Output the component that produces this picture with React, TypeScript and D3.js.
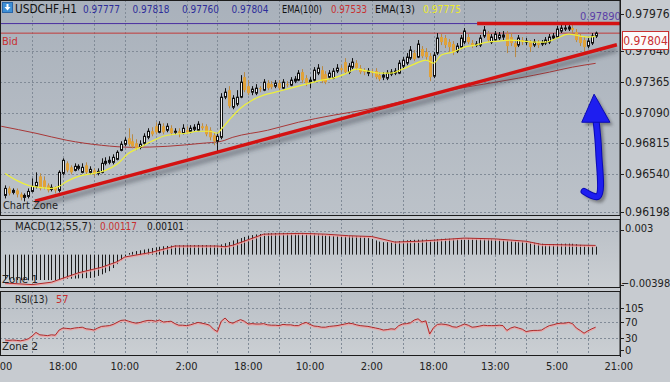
import React from 'react';
import * as d3 from 'd3';

// ---------- DATA (prices in points, 1e-5 CHF) ----------
const SYMBOL = 'USDCHF,H1';
const OPEN = [
  96347, 96410, 96374, 96392, 96356, 96329, 96338, 96383, 96428, 96518,
  96482, 96437, 96401, 96419, 96392, 96545, 96635, 96599, 96572, 96590,
  96554, 96617, 96554, 96572, 96545, 96554, 96635, 96644, 96644, 96671,
  96752, 96806, 96860, 96833, 96815, 96779, 96815, 96869, 96923, 96968,
  96914, 96968, 96932, 96950, 96914, 96923, 96905, 96932, 96923, 96941,
  96932, 96968, 96968, 96932, 96887, 96833, 96869, 97229, 97292, 97139,
  97166, 97229, 97409, 97328, 97274, 97265, 97310, 97292, 97355, 97346,
  97328, 97355, 97310, 97346, 97337, 97373, 97382, 97454, 97400, 97364,
  97382, 97445, 97472, 97436, 97409, 97400, 97463, 97490, 97544, 97454,
  97499, 97535, 97490, 97463, 97445, 97454, 97463, 97427, 97409, 97400,
  97436, 97445, 97445, 97508, 97535, 97580, 97625, 97589, 97661, 97634,
  97598, 97418, 97625, 97769, 97760, 97724, 97706, 97643, 97679, 97724,
  97769, 97715, 97697, 97697, 97778, 97796, 97724, 97742, 97760, 97769,
  97796, 97769, 97715, 97697, 97742, 97724, 97724, 97697, 97715, 97706,
  97715, 97724, 97760, 97769, 97823, 97841, 97841, 97850, 97814, 97769,
  97742, 97688, 97715, 97777,
];
const HIGH = [
  96437, 96428, 96410, 96410, 96374, 96365, 96410, 96500, 96554, 96545,
  96518, 96455, 96446, 96428, 96572, 96680, 96653, 96617, 96635, 96626,
  96635, 96644, 96608, 96590, 96590, 96680, 96689, 96698, 96716, 96752,
  96833, 96869, 96950, 96896, 96851, 96842, 96905, 96950, 96959, 97004,
  97013, 96995, 96995, 96977, 96950, 96950, 96986, 96968, 96977, 96986,
  97013, 96995, 96986, 96959, 96914, 96905, 97265, 97310, 97328, 97247,
  97292, 97427, 97454, 97382, 97328, 97346, 97328, 97391, 97382, 97373,
  97382, 97382, 97391, 97373, 97409, 97418, 97472, 97481, 97427, 97409,
  97499, 97526, 97508, 97463, 97472, 97490, 97526, 97517, 97580, 97535,
  97580, 97562, 97517, 97490, 97490, 97481, 97490, 97454, 97454, 97472,
  97481, 97490, 97562, 97589, 97625, 97688, 97652, 97742, 97688, 97670,
  97625, 97634, 97805, 97796, 97787, 97751, 97733, 97715, 97787, 97850,
  97796, 97742, 97733, 97787, 97868, 97823, 97796, 97823, 97814, 97823,
  97823, 97805, 97742, 97787, 97769, 97760, 97742, 97751, 97742, 97742,
  97769, 97796, 97805, 97868, 97877, 97877, 97890, 97877, 97841, 97796,
  97769, 97760, 97805, 97818,
];
const LOW = [
  96320, 96347, 96356, 96329, 96302, 96293, 96320, 96374, 96410, 96392,
  96401, 96374, 96383, 96365, 96374, 96527, 96554, 96536, 96563, 96572,
  96545, 96536, 96536, 96518, 96527, 96545, 96617, 96626, 96626, 96662,
  96743, 96788, 96788, 96770, 96752, 96761, 96797, 96851, 96878, 96896,
  96905, 96896, 96914, 96887, 96896, 96869, 96896, 96896, 96905, 96923,
  96923, 96932, 96878, 96842, 96797, 96734, 96851, 97211, 97130, 97121,
  97148, 97220, 97274, 97247, 97247, 97247, 97274, 97283, 97292, 97301,
  97310, 97292, 97301, 97319, 97328, 97355, 97373, 97355, 97328, 97310,
  97364, 97427, 97355, 97346, 97391, 97391, 97445, 97454, 97436, 97436,
  97481, 97472, 97436, 97427, 97418, 97418, 97391, 97373, 97382, 97382,
  97418, 97427, 97436, 97490, 97517, 97562, 97553, 97580, 97580, 97562,
  97373, 97400, 97607, 97697, 97670, 97634, 97607, 97625, 97661, 97706,
  97706, 97670, 97679, 97679, 97760, 97724, 97706, 97724, 97742, 97742,
  97625, 97688, 97589, 97679, 97697, 97697, 97634, 97679, 97670, 97688,
  97697, 97706, 97742, 97760, 97805, 97823, 97823, 97805, 97724, 97688,
  97634, 97670, 97697, 97760,
];
const CLOSE = [
  96410, 96365, 96392, 96356, 96329, 96347, 96383, 96428, 96464, 96410,
  96419, 96392, 96419, 96392, 96554, 96662, 96572, 96554, 96608, 96608,
  96599, 96554, 96581, 96545, 96563, 96635, 96653, 96662, 96689, 96734,
  96806, 96842, 96806, 96788, 96770, 96806, 96878, 96923, 96896, 96914,
  96986, 96914, 96968, 96905, 96923, 96905, 96950, 96914, 96950, 96959,
  96986, 96950, 96896, 96869, 96833, 96878, 97229, 97274, 97148, 97220,
  97229, 97364, 97292, 97265, 97301, 97310, 97301, 97364, 97310, 97319,
  97355, 97310, 97364, 97337, 97382, 97391, 97445, 97382, 97355, 97382,
  97472, 97490, 97373, 97364, 97445, 97463, 97490, 97472, 97454, 97508,
  97544, 97490, 97454, 97454, 97463, 97445, 97409, 97391, 97427, 97445,
  97454, 97463, 97535, 97562, 97589, 97652, 97571, 97706, 97598, 97589,
  97409, 97607, 97760, 97724, 97697, 97679, 97634, 97688, 97760, 97823,
  97724, 97697, 97706, 97760, 97832, 97742, 97769, 97796, 97787, 97787,
  97688, 97715, 97679, 97760, 97724, 97733, 97679, 97724, 97697, 97715,
  97742, 97769, 97778, 97841, 97850, 97850, 97859, 97832, 97742, 97715,
  97679, 97733, 97778, 97804,
];

// EMA lines (bar index, value in points)
const EMA13_BARS = [1, 4, 7, 10, 13, 15, 17, 20, 24, 27, 30, 33, 36, 39, 42, 45, 48, 51, 54, 56, 57, 59, 62, 65, 68, 71, 74, 77, 80, 83, 86, 89, 92, 95, 98, 101, 104, 107, 110, 112, 114, 117, 120, 123, 126, 129, 132, 135, 138, 141, 144, 147, 150, 152, 154];
const EMA13_VALUES = [96545, 96482, 96437, 96419, 96410, 96428, 96473, 96518, 96545, 96572, 96626, 96725, 96779, 96833, 96878, 96896, 96905, 96923, 96923, 96905, 96941, 97022, 97130, 97202, 97247, 97274, 97301, 97328, 97355, 97382, 97400, 97436, 97481, 97463, 97445, 97445, 97481, 97526, 97562, 97535, 97607, 97634, 97679, 97697, 97724, 97733, 97742, 97733, 97724, 97724, 97760, 97796, 97778, 97769, 97775];
const EMA100_BARS = [0, 9, 17, 26, 34, 43, 52, 57, 60, 69, 77, 86, 95, 103, 112, 119, 125, 134, 142, 148, 154];
const EMA100_VALUES = [96968, 96905, 96842, 96797, 96779, 96788, 96815, 96833, 96869, 96932, 97004, 97067, 97121, 97184, 97256, 97310, 97346, 97400, 97454, 97499, 97533];

// MACD(12,55,7) histogram, one value per bar
const MACD = [
  -0.00315, -0.00318, -0.0032, -0.00322, -0.00325, -0.00326, -0.00326, -0.00324, -0.00322, -0.00322,
  -0.00322, -0.00323, -0.00323, -0.00324, -0.00318, -0.0031, -0.00308, -0.00306, -0.00304, -0.00302,
  -0.003, -0.00298, -0.00296, -0.0029, -0.0027, -0.0025, -0.0023, -0.0021, -0.0017, -0.0012,
  -0.0007, -0.0002, 0.0002, 0.00035, 0.00045, 0.00055, 0.00065, 0.00075, 0.00085, 0.00092,
  0.001, 0.00106, 0.0011, 0.00114, 0.00116, 0.00117, 0.00118, 0.00119, 0.0012, 0.0012,
  0.00121, 0.00121, 0.0012, 0.00118, 0.00116, 0.00114, 0.0013, 0.00145, 0.0016, 0.0018,
  0.00195, 0.0021, 0.00225, 0.00238, 0.00248, 0.00256, 0.00262, 0.00266, 0.0027, 0.00272,
  0.00274, 0.00275, 0.00276, 0.00276, 0.00276, 0.00276, 0.00275, 0.00275, 0.00274, 0.00272,
  0.00268, 0.00262, 0.00256, 0.0025, 0.00245, 0.0024, 0.00238, 0.00237, 0.00237, 0.00238,
  0.00238, 0.00237, 0.00233, 0.00226, 0.00215, 0.002, 0.0018, 0.00165, 0.00158, 0.00158,
  0.0016, 0.00165, 0.00172, 0.00178, 0.00182, 0.00186, 0.00188, 0.0019, 0.00191, 0.00192,
  0.00185, 0.00188, 0.00196, 0.002, 0.00202, 0.00202, 0.00201, 0.002, 0.00201, 0.00203,
  0.00204, 0.00202, 0.002, 0.00199, 0.002, 0.00199, 0.00197, 0.00196, 0.00192, 0.00187,
  0.0018, 0.00176, 0.00172, 0.0017, 0.00168, 0.00164, 0.00158, 0.0015, 0.00143, 0.00138,
  0.00135, 0.00134, 0.00134, 0.00136, 0.00138, 0.00139, 0.0014, 0.00138, 0.00132, 0.00124,
  0.00116, 0.0011, 0.00106, 0.00101,
];
const SIGNAL_BARS = [1, 8, 13, 20, 26, 30, 32, 39, 45, 56, 58, 60, 68, 78, 84, 90, 96, 102, 108, 120, 128, 136, 140, 154];
const SIGNAL_VALUES = [-0.0036, -0.0038, -0.0035, -0.0023, -0.0016, -0.0009, -0.0003, 0.0003, 0.0011, 0.0011, 0.001, 0.0012, 0.0026, 0.0027, 0.0026, 0.0024, 0.0023, 0.0016, 0.0017, 0.0021, 0.002, 0.0017, 0.0013, 0.00117];

// RSI(13), one value per bar
const RSI = [
  25, 24, 25, 24, 23, 25, 28, 35, 44, 38, 37, 36, 38, 37, 50, 55, 54, 53, 55, 56,
  57, 53, 52, 50, 55, 59, 60, 61, 64, 69, 74, 75, 72, 69, 67, 69, 72, 74, 74, 72,
  75, 70, 71, 72, 66, 62, 62, 61, 63, 66, 69, 67, 65, 62, 52, 46, 72, 80, 70, 67,
  72, 76, 72, 65, 66, 65, 65, 66, 63, 62, 62, 61, 64, 63, 63, 61, 61, 66, 69, 64,
  60, 59, 57, 57, 59, 60, 61, 63, 65, 67, 66, 63, 61, 60, 59, 57, 55, 53, 50, 51,
  53, 52, 61, 65, 66, 68, 75, 78, 70, 73, 40, 56, 64, 65, 64, 62, 58, 57, 61, 65,
  62, 57, 58, 60, 62, 61, 61, 61, 62, 61, 49, 55, 58, 55, 52, 46, 48, 49, 49, 50,
  56, 61, 63, 66, 67, 67, 69, 66, 55, 49, 42, 48, 53, 57,
];

// axes
const PRICE_TICKS = [0.97976, 0.9764, 0.97365, 0.9709, 0.96815, 0.9654, 0.96198];
const MACD_TICKS = [0.003, -0.00398];
const RSI_TICKS = [105, 70, 30, 0];
const TIME_LABELS = ['2:00', '18:00', '10:00', '2:00', '18:00', '10:00', '2:00', '18:00', '13:00', '5:00', '21:00'];
const TIME_LABEL_BARS = [0, 16, 32, 48, 64, 80, 96, 112, 128, 144, 160];
const GRID_BARS = [8, 16, 24, 32, 40, 48, 56, 64, 72, 80, 88, 96, 104, 112, 120, 128, 136, 144, 152];

// annotations drawn on the chart (bar index, price)
const HIGH_LEVEL = 0.9789;
const TREND_BARS = [8.75, 159.5];
const TREND_PRICES = [0.96296, 0.977];
const RESIST_BARS = [123.3, 160.3];
const ARROW_SHAFT_BARS = [151, 154.6, 154.8, 154.1];
const ARROW_SHAFT_PRICES = [0.96383, 0.96338, 0.9673, 0.97022];
const ARROW_HEAD_BARS = [150.4, 153.6, 157.7];
const ARROW_HEAD_PRICES = [0.97004, 0.97256, 0.97004];

const FONT = "'DejaVu Sans Condensed','Liberation Sans Narrow','Arial Narrow','DejaVu Sans',sans-serif";

export default function App() {
  const W = 670, H = 382;
  const x = d3.scaleLinear().domain([0, 160]).range([1.24, 618.8]);
  const yP = d3.scaleLinear().domain([0.96198, 0.97976]).range([212, 14]);
  const yM = d3.scaleLinear().domain([-0.00398, 0.003]).range([286, 231]);
  const yR = d3.scaleLinear().domain([0, 105]).range([350, 308]);
  const f5 = d3.format('.5f');
  const pt = (v: number) => v / 1e5;
  const AX = 620;

  const bars = CLOSE.map((c, k) => ({ i: k + 1, o: pt(OPEN[k]), h: pt(HIGH[k]), l: pt(LOW[k]), c: pt(c) }));
  const last = bars[bars.length - 1];

  const emaLine = d3.line<[number, number]>().x(d => x(d[0])).y(d => yP(pt(d[1]))).curve(d3.curveMonotoneX);
  const ema13 = emaLine(EMA13_BARS.map((b, k) => [b, EMA13_VALUES[k]]));
  const ema100 = emaLine(EMA100_BARS.map((b, k) => [b, EMA100_VALUES[k]]));
  const sigLine = d3.line<[number, number]>().x(d => x(d[0])).y(d => yM(d[1]));
  const signal = sigLine(SIGNAL_BARS.map((b, k) => [b, SIGNAL_VALUES[k]]));
  const rsiLine = d3.line<number>().x((_, k) => x(k + 1)).y(d => yR(d));
  const rsi = rsiLine(RSI);

  const arrowShaft = d3.line<[number, number]>().x(d => x(d[0])).y(d => yP(d[1])).curve(d3.curveCatmullRom)(
    ARROW_SHAFT_BARS.map((b, k) => [b, ARROW_SHAFT_PRICES[k]]));
  const arrowHead = ARROW_HEAD_BARS.map((b, k) => `${x(b)},${yP(ARROW_HEAD_PRICES[k])}`).join(' ');

  const cx = (i: number) => Math.round(x(i)) + 0.5;

  const panels = [
    { y0: 0, y1: 216 },
    { y0: 219, y1: 288 },
    { y0: 291, y1: 356 },
  ];

  return (
    <svg width={W} height={H} style={{ position: 'absolute', left: 0, top: 0, fontFamily: FONT }}>
      <defs>
        <linearGradient id="gMain" x1="0" y1="0" x2="0" y2="1">
          <stop offset="0" stopColor="#a9b1bb" />
          <stop offset="1" stopColor="#bcc2c9" />
        </linearGradient>
        <linearGradient id="gSub" x1="0" y1="0" x2="0" y2="1">
          <stop offset="0" stopColor="#b9bfc6" />
          <stop offset="1" stopColor="#cbcfd3" />
        </linearGradient>
        <filter id="blur2" x="-10%" y="-50%" width="120%" height="200%">
          <feGaussianBlur stdDeviation="2" />
        </filter>
        <filter id="blur1" x="-20%" y="-20%" width="140%" height="140%">
          <feGaussianBlur stdDeviation="1.5" />
        </filter>
        <clipPath id="clipMain"><rect x={0} y={0} width={AX} height={216} /></clipPath>
        <clipPath id="clipMacd"><rect x={0} y={219} width={AX} height={69} /></clipPath>
        <clipPath id="clipRsi"><rect x={0} y={291} width={AX} height={65} /></clipPath>
      </defs>

      <rect x={0} y={0} width={W} height={H} fill="#c7cbd0" />
      {panels.map((p, k) => (
        <rect key={k} x={0} y={p.y0} width={AX} height={p.y1 - p.y0} fill={k === 0 ? 'url(#gMain)' : 'url(#gSub)'} />
      ))}

      {/* vertical grid */}
      {panels.map((p, k) => (
        <g key={k}>
          {GRID_BARS.map(b => (
            <line key={b} x1={cx(b)} x2={cx(b)} y1={p.y0} y2={p.y1} stroke="#818b97" strokeDasharray="2,2" strokeWidth={1} />
          ))}
        </g>
      ))}
      {/* horizontal grid */}
      {PRICE_TICKS.slice(1).map(t => (
        <line key={t} x1={0} x2={AX} y1={Math.round(yP(t)) + 0.5} y2={Math.round(yP(t)) + 0.5} stroke="#818b97" strokeDasharray="2,2" />
      ))}
      <line x1={0} x2={AX} y1={Math.round(yM(MACD_TICKS[0])) + 0.5} y2={Math.round(yM(MACD_TICKS[0])) + 0.5} stroke="#818b97" strokeDasharray="2,2" />
      {RSI_TICKS.slice(0, 3).map(t => (
        <line key={t} x1={0} x2={AX} y1={Math.round(yR(t)) + 0.5} y2={Math.round(yR(t)) + 0.5} stroke="#818b97" strokeDasharray="2,2" />
      ))}

      {/* main chart */}
      <g clipPath="url(#clipMain)">
        <line x1={0} x2={AX} y1={yP(HIGH_LEVEL)} y2={yP(HIGH_LEVEL)} stroke="#4a2fa0" strokeWidth={1} />
        <line x1={0} x2={AX} y1={yP(last.c)} y2={yP(last.c)} stroke="#c23a3a" strokeWidth={1} />
        <path d={ema100 || ''} fill="none" stroke="#a83838" strokeWidth={1} />
        {bars.map(b => {
          const up = b.c >= b.o;
          const X = cx(b.i);
          const top = Math.min(yP(b.o), yP(b.c));
          const bot = Math.max(yP(b.o), yP(b.c));
          return (
            <g key={b.i}>
              <line x1={X} x2={X} y1={yP(b.h)} y2={yP(b.l)} stroke={up ? '#111' : '#b98a45'} strokeWidth={1} />
              {up ? (
                <rect x={X - 1} y={top} width={2} height={Math.max(1, bot - top)} fill="#f2f2f2" stroke="#111" strokeWidth={1} />
              ) : (
                <rect x={X - 1.5} y={top} width={3} height={Math.max(1, bot - top)} fill="#e0a23a" />
              )}
            </g>
          );
        })}
        <path d={ema13 || ''} fill="none" stroke="#eef03a" strokeWidth={1.2} />

        {/* trend lines with shadows */}
        <line x1={x(TREND_BARS[0])} y1={yP(TREND_PRICES[0]) + 5} x2={x(TREND_BARS[1])} y2={yP(TREND_PRICES[1]) + 5}
          stroke="#3c434c" strokeOpacity={0.45} strokeWidth={5} filter="url(#blur2)" />
        <line x1={x(TREND_BARS[0])} y1={yP(TREND_PRICES[0])} x2={x(TREND_BARS[1])} y2={yP(TREND_PRICES[1])}
          stroke="#d41212" strokeWidth={3.5} />
        <line x1={x(RESIST_BARS[0])} y1={yP(HIGH_LEVEL) + 4} x2={x(RESIST_BARS[1])} y2={yP(HIGH_LEVEL) + 4}
          stroke="#3c434c" strokeOpacity={0.35} strokeWidth={4} filter="url(#blur2)" />
        <line x1={x(RESIST_BARS[0])} y1={yP(HIGH_LEVEL)} x2={x(RESIST_BARS[1])} y2={yP(HIGH_LEVEL)}
          stroke="#d41212" strokeWidth={3.5} />

        {/* blue arrow */}
        <g transform="translate(3,3)" opacity={0.45} filter="url(#blur1)">
          <path d={arrowShaft || ''} fill="none" stroke="#333" strokeWidth={6} strokeLinecap="round" />
          <polygon points={arrowHead} fill="#333" />
        </g>
        <path d={arrowShaft || ''} fill="none" stroke="#0a0ab4" strokeWidth={7} strokeLinecap="round" />
        <path d={arrowShaft || ''} fill="none" stroke="#1e1ef0" strokeWidth={5} strokeLinecap="round" />
        <polygon points={arrowHead} fill="#1e1ef0" stroke="#0a0ab4" strokeWidth={1} />

        <text x={580} y={19.5} fontSize={11} fill="#5b3ea6">{f5(HIGH_LEVEL)}</text>
        <text x={2} y={45} fontSize={11} fill="#c83030">Bid</text>
        <text x={3} y={209} fontSize={11} fill="#222" textLength={55} lengthAdjust="spacingAndGlyphs">Chart Zone</text>
      </g>

      {/* header */}
      <rect x={2.5} y={2.5} width={10} height={10} fill="#3d8fd6" stroke="#2a66a8" />
      <path d="M7.5,10.5 L4.5,7 L6.5,7 L6.5,4 L8.5,4 L8.5,7 L10.5,7 Z" fill="#fff" />
      <text x={15} y={12.5} fontSize={12} fill="#111" textLength={62} lengthAdjust="spacingAndGlyphs">{SYMBOL}</text>
      {[last.o, last.h, last.l, last.c].map((v, k) => (
        <text key={k} x={83 + k * 49.5} y={12.5} fontSize={11} fill="#2d2d9a" textLength={37} lengthAdjust="spacingAndGlyphs">{f5(v)}</text>
      ))}
      <text x={282} y={12.5} fontSize={10.5} fill="#111" textLength={40} lengthAdjust="spacingAndGlyphs">EMA(100)</text>
      <text x={331} y={12.5} fontSize={11} fill="#c83030" textLength={36} lengthAdjust="spacingAndGlyphs">{f5(pt(EMA100_VALUES[EMA100_VALUES.length - 1]))}</text>
      <text x={375} y={12.5} fontSize={10.5} fill="#111" textLength={40} lengthAdjust="spacingAndGlyphs">EMA(13)</text>
      <text x={423} y={12.5} fontSize={11} fill="#ecea2c" textLength={38} lengthAdjust="spacingAndGlyphs">{f5(pt(EMA13_VALUES[EMA13_VALUES.length - 1]))}</text>

      {/* MACD */}
      <g clipPath="url(#clipMacd)">
        {MACD.map((v, k) => (
          <line key={k} x1={cx(k + 1)} x2={cx(k + 1)} y1={yM(0)} y2={yM(v)} stroke="#1a1a1a" strokeWidth={1} />
        ))}
        <path d={signal || ''} fill="none" stroke="#f0a0a0" strokeWidth={1.5} transform="translate(0,1)" opacity={0.8} />
        <path d={signal || ''} fill="none" stroke="#b02828" strokeWidth={1} />
        <text x={2} y={283} fontSize={11} fill="#222" textLength={36} lengthAdjust="spacingAndGlyphs">Zone 1</text>
      </g>
      <text x={15} y={230} fontSize={11} fill="#222" textLength={77} lengthAdjust="spacingAndGlyphs">MACD(12,55,7)</text>
      <text x={100} y={230} fontSize={11} fill="#c83030" textLength={37} lengthAdjust="spacingAndGlyphs">{f5(SIGNAL_VALUES[SIGNAL_VALUES.length - 1])}</text>
      <text x={147} y={230} fontSize={11} fill="#111" textLength={37} lengthAdjust="spacingAndGlyphs">{f5(MACD[MACD.length - 1])}</text>

      {/* RSI */}
      <g clipPath="url(#clipRsi)">
        <path d={rsi || ''} fill="none" stroke="#eea0a0" strokeWidth={1.5} transform="translate(0,1)" opacity={0.8} />
        <path d={rsi || ''} fill="none" stroke="#b02828" strokeWidth={1} />
        <text x={2} y={350} fontSize={11} fill="#222" textLength={36} lengthAdjust="spacingAndGlyphs">Zone 2</text>
      </g>
      <text x={15} y={303} fontSize={11} fill="#222" textLength={33} lengthAdjust="spacingAndGlyphs">RSI(13)</text>
      <text x={56} y={303} fontSize={11} fill="#c83030">{RSI[RSI.length - 1]}</text>

      {/* panel borders */}
      {panels.map((p, k) => (
        <rect key={k} x={0.5} y={p.y0 + 0.5} width={AX - 0.5} height={p.y1 - p.y0 - 1} fill="none" stroke="#1c1c1c" strokeWidth={1} />
      ))}
      <line x1={AX + 0.5} x2={AX + 0.5} y1={0} y2={357} stroke="#1c1c1c" />

      {/* right axes */}
      {PRICE_TICKS.map(t => (
        <g key={t}>
          <line x1={AX} x2={AX + 4} y1={Math.round(yP(t)) + 0.5} y2={Math.round(yP(t)) + 0.5} stroke="#222" />
          <text x={AX + 5} y={yP(t) + 4} fontSize={12} fill="#222">{f5(t)}</text>
        </g>
      ))}
      {MACD_TICKS.map(t => (
        <g key={t}>
          <line x1={AX} x2={AX + 4} y1={Math.round(yM(t)) - 0.5} y2={Math.round(yM(t)) - 0.5} stroke="#222" />
          <text x={AX + (t < 0 ? 1 : 5)} y={yM(t) + 1} fontSize={11} fill="#222">{t < 0 ? d3.format('.5f')(t) : d3.format('.3f')(t)}</text>
        </g>
      ))}
      {RSI_TICKS.map(t => (
        <g key={t}>
          <line x1={AX} x2={AX + 4} y1={Math.round(yR(t)) + 0.5} y2={Math.round(yR(t)) + 0.5} stroke="#222" />
          <text x={AX + 5} y={Math.min(yR(t) + 4, 357)} fontSize={11} fill="#222">{t}</text>
        </g>
      ))}

      {/* bid price box */}
      <rect x={622.5} y={Math.round(yP(last.c)) - 1.5} width={46} height={18} fill="#fbfbfb" stroke="#c83030" />
      <text x={645.5} y={yP(last.c) + 12} fontSize={12} fill="#c83030" textAnchor="middle">{f5(last.c)}</text>

      {/* time axis */}
      {TIME_LABEL_BARS.map((b, k) => (
        <text key={k} x={x(b)} y={370} fontSize={11} fill="#222" textAnchor="middle">{TIME_LABELS[k]}</text>
      ))}
    </svg>
  );
}
